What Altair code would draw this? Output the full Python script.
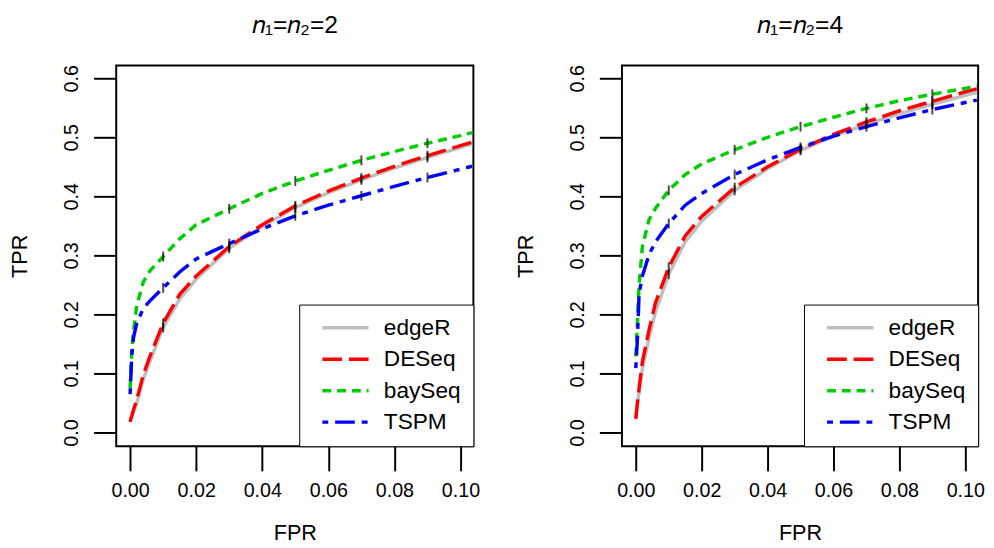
import altair as alt
import pandas as pd

methods = ["edgeR", "DESeq", "baySeq", "TSPM"]
colors = ["#BEBEBE", "#FF0000", "#00CD00", "#0000FF"]
dashes = [[1, 0], [20, 7], [9, 6], [6, 7, 20, 7]]

fpr = [0, 0.0005, 0.001, 0.002, 0.004, 0.006, 0.01, 0.015, 0.02, 0.03,
       0.04, 0.05, 0.06, 0.07, 0.08, 0.09, 0.1, 0.1035]
marker_fpr = [0.01, 0.03, 0.05, 0.07, 0.09]

x_ticks = [0.0, 0.02, 0.04, 0.06, 0.08, 0.10]
y_ticks = [0.0, 0.1, 0.2, 0.3, 0.4, 0.5, 0.6]

# panel n1=n2=2
tpr2_edgeR = [0.022, 0.028, 0.035, 0.050, 0.090, 0.120, 0.178, 0.226, 0.260, 0.312,
              0.349, 0.381, 0.406, 0.428, 0.448, 0.466, 0.483, 0.489]
tpr2_DESeq = [0.018, 0.028, 0.038, 0.055, 0.098, 0.129, 0.185, 0.234, 0.265, 0.315,
              0.352, 0.384, 0.409, 0.431, 0.451, 0.469, 0.486, 0.492]
tpr2_baySeq = [0.075, 0.140, 0.170, 0.215, 0.255, 0.274, 0.298, 0.328, 0.352, 0.379,
               0.405, 0.426, 0.444, 0.461, 0.476, 0.490, 0.503, 0.508]
tpr2_TSPM = [0.065, 0.130, 0.160, 0.185, 0.210, 0.223, 0.245, 0.272, 0.294, 0.320,
             0.345, 0.367, 0.385, 0.401, 0.417, 0.432, 0.446, 0.451]

# panel n1=n2=4
tpr4_edgeR = [0.025, 0.050, 0.068, 0.108, 0.160, 0.205, 0.268, 0.323, 0.358, 0.410,
              0.447, 0.478, 0.502, 0.522, 0.540, 0.556, 0.571, 0.576]
tpr4_DESeq = [0.023, 0.050, 0.075, 0.120, 0.173, 0.220, 0.280, 0.333, 0.366, 0.415,
              0.450, 0.480, 0.505, 0.526, 0.545, 0.561, 0.577, 0.582]
tpr4_baySeq = [0.129, 0.190, 0.250, 0.315, 0.360, 0.380, 0.410, 0.437, 0.455, 0.479,
               0.500, 0.518, 0.534, 0.549, 0.562, 0.573, 0.583, 0.587]
tpr4_TSPM = [0.109, 0.160, 0.235, 0.265, 0.301, 0.323, 0.354, 0.385, 0.405, 0.437,
             0.462, 0.483, 0.502, 0.518, 0.533, 0.547, 0.559, 0.563]

FONT = "Liberation Sans"


def make_df(series):
    rows = []
    for m, vals in zip(methods, series):
        for x, y in zip(fpr, vals):
            rows.append({"FPR": x, "TPR": y, "method": m})
    return pd.DataFrame(rows)


xscale = alt.Scale(domain=[-0.0042, 0.1039], nice=False, zero=False)
yscale = alt.Scale(domain=[-0.0233, 0.6217], nice=False, zero=False)

xaxis = alt.Axis(values=x_ticks, format=".2f", title="FPR", grid=False, domain=False,
                 tickSize=25, tickWidth=2, tickColor="black",
                 labelFont=FONT, labelFontSize=20, labelColor="black", labelPadding=10,
                 labelOverlap=False, labelFlush=False,
                 titleFont=FONT, titleFontSize=22, titleFontWeight="normal",
                 titleColor="black", titlePadding=23)
yaxis = alt.Axis(values=y_ticks, format=".1f", title="TPR", grid=False, domain=False,
                 tickSize=23, tickWidth=2, tickColor="black",
                 labelFont=FONT, labelFontSize=20, labelColor="black", labelPadding=22,
                 labelAngle=-90, labelAlign="center", labelBaseline="middle",
                 labelOverlap=False, labelFlush=False,
                 titleFont=FONT, titleFontSize=22, titleFontWeight="normal",
                 titleColor="black", titlePadding=31)


def legend():
    return alt.Legend(title=None, orient="bottom-right", offset=0,
                      symbolType="M-4,0H4", symbolSize=138, symbolStrokeWidth=3.5,
                      symbolOffset=23.5, labelOffset=27.5,
                      labelFont=FONT, labelFontSize=23, labelColor="black",
                      padding=12, rowPadding=8,
                      strokeColor="black", fillColor="white")


def panel(series, title, w):
    df = make_df(series)
    base = alt.Chart(df)
    lines = base.mark_line(strokeWidth=3.5, clip=True, strokeCap="butt").encode(
        x=alt.X("FPR:Q", scale=xscale, axis=xaxis),
        y=alt.Y("TPR:Q", scale=yscale, axis=yaxis),
        color=alt.Color("method:N", scale=alt.Scale(domain=methods, range=colors),
                        legend=legend()),
        strokeDash=alt.StrokeDash("method:N", scale=alt.Scale(domain=methods, range=dashes),
                                  legend=legend()),
    )
    ticks = base.transform_filter(
        alt.FieldOneOfPredicate(field="FPR", oneOf=marker_fpr)
    ).mark_tick(orient="vertical", color="black", size=10, thickness=2).encode(
        x="FPR:Q", y="TPR:Q"
    )
    return alt.layer(lines, ticks).properties(
        width=w, height=387,
        title=alt.TitleParams(title, font=FONT, fontSize=25, fontWeight="normal",
                              color="black", frame="group", anchor="middle", offset=27),
    )


left = panel([tpr2_edgeR, tpr2_DESeq, tpr2_baySeq, tpr2_TSPM], "𝑛₁=𝑛₂=2", 363)
right = panel([tpr4_edgeR, tpr4_DESeq, tpr4_baySeq, tpr4_TSPM], "𝑛₁=𝑛₂=4", 362)

chart = alt.hconcat(left, right, spacing=33).resolve_scale(
    color="independent", strokeDash="independent"
).properties(
    padding={"left": 0, "top": 0, "right": 0, "bottom": 0}
).configure_view(stroke="black", strokeWidth=2)

chart.save("out.html", embed_options={"renderer": "svg", "actions": False})
